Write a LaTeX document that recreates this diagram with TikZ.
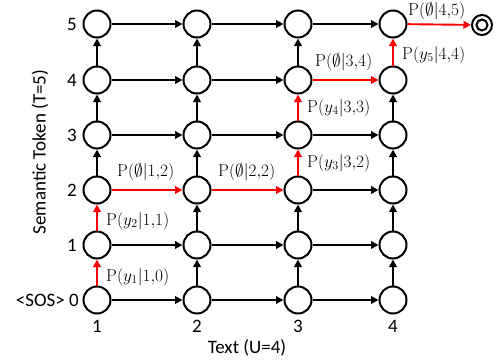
\documentclass[tikz,border=0pt]{standalone}
\usepackage[no-math]{fontspec}
\usepackage{amssymb}
\setmainfont{Carlito}
\usetikzlibrary{arrows.meta}
\tikzset{
  st/.style={circle, draw, line width=2pt, minimum size=27pt, inner sep=0pt},
  arr/.style={line width=1.9pt, -{Triangle[length=7.5pt,width=7.5pt]}},
  red arr/.style={arr, red},
  axlab/.style={font=\fontsize{19}{22}\selectfont},
  plab/.style={anchor=west, inner sep=0pt, font=\fontsize{17}{20}\selectfont},
}
\begin{document}
\begin{tikzpicture}[x=1pt,y=-1pt]
\useasboundingbox (0,0) rectangle (498,364);
% nodes
\foreach \c/\x in {1/97,2/197,3/298,4/393}{
  \foreach \r/\y in {0/300,1/245,2/190,3/135,4/80,5/24}{
    \node[st] (n\c\r) at (\x,\y) {};
  }
}
\node[draw, circle, line width=2pt, minimum size=20pt, inner sep=0pt] (fin) at (482,25) {};
\node[draw, circle, line width=2pt, minimum size=11pt, inner sep=0pt] (fininner) at (482,25) {};
% horizontal black arrows
\foreach \a/\b/\r in {1/2/0,2/3/0,3/4/0,1/2/1,2/3/1,3/4/1,3/4/2,1/2/3,2/3/3,3/4/3,1/2/4,2/3/4,1/2/5,2/3/5,3/4/5}{
  \draw[arr] (n\a\r) -- (n\b\r);
}
% vertical black arrows
\foreach \c/\a/\b in {1/2/3,1/3/4,1/4/5,2/0/1,2/1/2,2/2/3,2/3/4,2/4/5,3/0/1,3/1/2,3/4/5,4/0/1,4/1/2,4/2/3,4/3/4}{
  \draw[arr] (n\c\a) -- (n\c\b);
}
% red path
\draw[red arr] (n10) -- (n11);
\draw[red arr] (n11) -- (n12);
\draw[red arr] (n12) -- (n22);
\draw[red arr] (n22) -- (n32);
\draw[red arr] (n32) -- (n33);
\draw[red arr] (n33) -- (n34);
\draw[red arr] (n34) -- (n44);
\draw[red arr] (n44) -- (n45);
\draw[red arr] (n45) -- (fin);
% probability labels
\node[plab] (l1) at (106,277) {$\mathrm{P}(y_1|1{,}0)$};
\node[plab] (l2) at (106,221) {$\mathrm{P}(y_2|1{,}1)$};
\node[plab] (l3) at (117,172) {$\mathrm{P}(\emptyset|1{,}2)$};
\node[plab] (l4) at (218,172) {$\mathrm{P}(\emptyset|2{,}2)$};
\node[plab] (l5) at (307,163) {$\mathrm{P}(y_3|3{,}2)$};
\node[plab] (l6) at (307,108) {$\mathrm{P}(y_4|3{,}3)$};
\node[plab] (l7) at (315,62) {$\mathrm{P}(\emptyset|3{,}4)$};
\node[plab] (l8) at (402,55) {$\mathrm{P}(y_5|4{,}4)$};
\node[plab] (l9) at (408,11.5) {$\mathrm{P}(\emptyset|4{,}5)$};
% axis labels
\foreach \r/\y in {1/245,2/190,3/135,4/80,5/24}{
  \node[axlab] (rl\r) at (72,\y) {\r};
}
\node[axlab, anchor=east, inner sep=0pt] (rl0) at (79,300) {<SOS> 0};
\foreach \c/\x in {1/97,2/197,3/298,4/393}{
  \node[axlab] (cl\c) at (\x,326) {\c};
}
\node[axlab] (xl) at (247,348) {Text (U=4)};
\node[axlab, rotate=90] (yl) at (40,152) {Semantic Token (T=5)};
\end{tikzpicture}
\end{document}
